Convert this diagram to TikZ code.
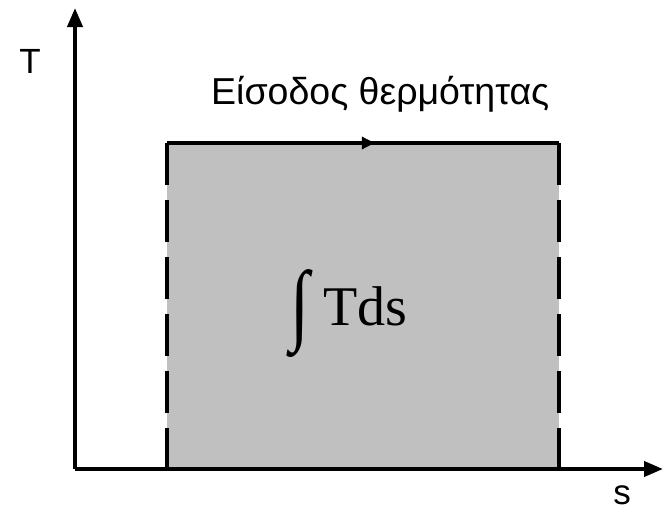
\documentclass[tikz,border=0pt]{standalone}
\usepackage{fontspec}
\usepackage{graphicx}
\setmainfont{Liberation Serif}
\newfontfamily\labelfont{Liberation Sans}
\usetikzlibrary{arrows.meta,decorations.markings}
\definecolor{areagray}{RGB}{192,192,192}
\tikzset{
  axisline/.style={line width=4pt, -{Triangle[length=19pt,width=15pt]}},
  edgeline/.style={line width=4pt},
  sideline/.style={line width=4pt, dash pattern=on 42pt off 15pt},
  axislabel/.style={font=\labelfont\fontsize{35}{38}\selectfont, inner sep=0pt},
}
\begin{document}
\begin{tikzpicture}[x=1pt,y=-1pt]
\useasboundingbox (0,0) rectangle (664,512);
% key points of the diagram
\coordinate (O) at (75,469);
\coordinate (ytip) at (75,8);
\coordinate (xtip) at (663,469);
\coordinate (A) at (167,469);
\coordinate (B) at (167,143);
\coordinate (C) at (559,143);
\coordinate (D) at (559,469);
% shaded area under the process line
\fill[areagray] (A) rectangle (C);
% top edge with direction mark
\draw[edgeline, postaction={decorate},
  decoration={markings, mark=at position 0.53 with {\arrow{Triangle[length=13pt,width=12pt]}}}]
  (B) -- (C);
% dashed vertical sides
\draw[sideline] (B) -- (A);
\draw[sideline] (C) -- (D);
% axes
\draw[axisline] (O) -- (ytip);
\draw[axisline] (O) -- (xtip);
% labels
\node[axislabel] (tlab) at (30,61) {T};
\node[axislabel] (slab) at (622,495) {s};
\node[font=\labelfont\fontsize{37.5}{42}\selectfont, anchor=base west, inner sep=0pt] (heat) at (211,104) {Είσοδος θερμότητας};
\node[anchor=north west, inner sep=0pt] (intsign) at (290,269) {\resizebox*{19pt}{88pt}{\fontsize{56}{60}\selectfont ∫}};
\node[font=\fontsize{56}{60}\selectfont, anchor=base west, inner sep=0pt] (tds) at (323,325) {Tds};
\end{tikzpicture}
\end{document}
